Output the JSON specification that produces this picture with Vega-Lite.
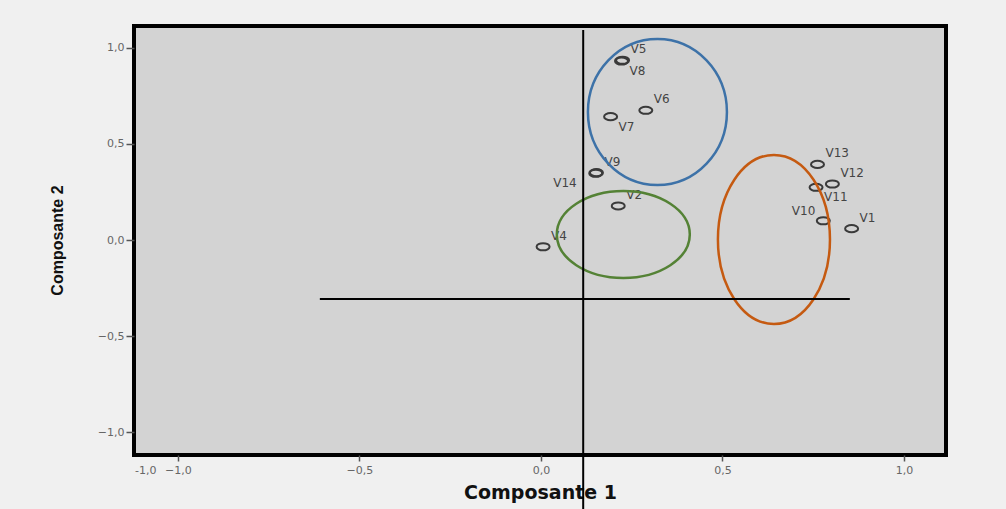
{
  "$schema": "https://vega.github.io/schema/vega-lite/v6.json",
  "width": 812,
  "height": 429,
  "autosize": "none",
  "padding": {"left": 134, "top": 26, "right": 60, "bottom": 54},
  "background": "#f0f0f0",
  "config": {
    "view": {"stroke": "#000000", "strokeWidth": 4, "fill": "#d3d3d3"},
    "axis": {"grid": false, "domain": false}
  },
  "datasets": {
    "pts": [
      {"label": "V1", "c1": 0.856, "c2": 0.059},
      {"label": "V2", "c1": 0.213, "c2": 0.177},
      {"label": "V4", "c1": 0.006, "c2": -0.035},
      {"label": "V5", "c1": 0.225, "c2": 0.934},
      {"label": "V6", "c1": 0.289, "c2": 0.674},
      {"label": "V7", "c1": 0.192, "c2": 0.641},
      {"label": "V8", "c1": 0.222, "c2": 0.930},
      {"label": "V9", "c1": 0.153, "c2": 0.350},
      {"label": "V10", "c1": 0.778, "c2": 0.100},
      {"label": "V11", "c1": 0.758, "c2": 0.274},
      {"label": "V12", "c1": 0.803, "c2": 0.291},
      {"label": "V13", "c1": 0.762, "c2": 0.393},
      {"label": "V14", "c1": 0.151, "c2": 0.347}
    ],
    "groupes": [
      {"groupe": "bleu", "c1": 0.321, "c2": 0.665},
      {"groupe": "vert", "c1": 0.227, "c2": 0.029},
      {"groupe": "orange", "c1": 0.642, "c2": 0.003}
    ],
    "vline": [{"c1": 0.1165, "c2": 1.091, "c2_fin": -1.45}],
    "hline": [{"c1": -0.609, "c1_fin": 0.851, "c2": -0.306}]
  },
  "encoding": {
    "x": {
      "field": "c1",
      "type": "quantitative",
      "scale": {"domain": [-1.121, 1.116], "nice": false, "zero": false},
      "axis": {
        "title": "Composante 1",
        "values": [-1.09, -1, -0.5, 0, 0.5, 1],
        "labelExpr": "datum.value < -1.05 ? '-1,0' : replace(format(datum.value, '.1f'), '.', ',')",
        "labelOverlap": false,
        "labelFont": "DejaVu Sans",
        "labelFontSize": 11,
        "labelColor": "#666666",
        "labelPadding": 3,
        "tickSize": 6,
        "tickWidth": 1.5,
        "tickColor": "#555555",
        "tickOpacity": {"condition": {"test": "datum.value < -1.05", "value": 0}, "value": 1},
        "titleFont": "DejaVu Sans",
        "titleFontSize": 19,
        "titleFontWeight": "bold",
        "titleColor": "#111111",
        "titleBaseline": "alphabetic",
        "titleY": 43
      }
    },
    "y": {
      "field": "c2",
      "type": "quantitative",
      "scale": {"domain": [-1.117, 1.112], "nice": false, "zero": false},
      "axis": {
        "title": "Composante 2",
        "values": [-1, -0.5, 0, 0.5, 1],
        "labelExpr": "replace(format(datum.value, '.1f'), '.', ',')",
        "labelFont": "DejaVu Sans",
        "labelFontSize": 11,
        "labelColor": "#666666",
        "labelPadding": 2,
        "tickSize": 8,
        "tickWidth": 1.5,
        "tickColor": "#555555",
        "titleFont": "Liberation Sans",
        "titleFontSize": 16,
        "titleFontWeight": "bold",
        "titleColor": "#111111",
        "titleBaseline": "alphabetic",
        "titleX": -72,
        "titleY": 214
      }
    }
  },
  "layer": [
    {
      "data": {"name": "pts"},
      "mark": {
        "type": "point",
        "shape": "M -1 0 A 1 0.55 0 1 1 1 0 A 1 0.55 0 1 1 -1 0 Z",
        "size": 169,
        "filled": false,
        "stroke": "#3a3a3a",
        "strokeWidth": 2,
        "opacity": 1
      }
    },
    {
      "data": {"name": "pts"},
      "transform": [{"filter": {"field": "label", "oneOf": ["V1", "V2", "V4", "V5", "V6", "V9", "V12", "V13"]}}],
      "mark": {"type": "text", "align": "left", "baseline": "middle", "dx": 8, "dy": -11, "font": "DejaVu Sans", "fontSize": 12, "color": "#444444"},
      "encoding": {"text": {"field": "label"}}
    },
    {
      "data": {"name": "pts"},
      "transform": [{"filter": {"field": "label", "oneOf": ["V7", "V8", "V11"]}}],
      "mark": {"type": "text", "align": "left", "baseline": "middle", "dx": 8, "dy": 10, "font": "DejaVu Sans", "fontSize": 12, "color": "#444444"},
      "encoding": {"text": {"field": "label"}}
    },
    {
      "data": {"name": "pts"},
      "transform": [{"filter": {"field": "label", "oneOf": ["V10"]}}],
      "mark": {"type": "text", "align": "right", "baseline": "middle", "dx": -8, "dy": -10, "font": "DejaVu Sans", "fontSize": 12, "color": "#444444"},
      "encoding": {"text": {"field": "label"}}
    },
    {
      "data": {"name": "pts"},
      "transform": [{"filter": {"field": "label", "oneOf": ["V14"]}}],
      "mark": {"type": "text", "align": "right", "baseline": "middle", "dx": -19, "dy": 10, "font": "DejaVu Sans", "fontSize": 12, "color": "#444444"},
      "encoding": {"text": {"field": "label"}}
    },
    {
      "data": {"name": "groupes"},
      "transform": [{"filter": "datum.groupe === 'bleu'"}],
      "mark": {
        "type": "point",
        "shape": "M -0.952 0 A 0.952 1 0 1 1 0.952 0 A 0.952 1 0 1 1 -0.952 0 Z",
        "size": 21316,
        "filled": false,
        "stroke": "#3d72a8",
        "strokeWidth": 2.5,
        "opacity": 1
      }
    },
    {
      "data": {"name": "groupes"},
      "transform": [{"filter": "datum.groupe === 'vert'"}],
      "mark": {
        "type": "point",
        "shape": "M -1 0 A 1 0.654 0 1 1 1 0 A 1 0.654 0 1 1 -1 0 Z",
        "size": 17689,
        "filled": false,
        "stroke": "#548235",
        "strokeWidth": 2.5,
        "opacity": 1
      }
    },
    {
      "data": {"name": "groupes"},
      "transform": [{"filter": "datum.groupe === 'orange'"}],
      "mark": {
        "type": "point",
        "shape": "M -0.663 0 A 0.663 1 0 1 1 0.663 0 A 0.663 1 0 1 1 -0.663 0 Z",
        "size": 28561,
        "filled": false,
        "stroke": "#c55a11",
        "strokeWidth": 2.5,
        "opacity": 1
      }
    },
    {
      "data": {"name": "vline"},
      "mark": {"type": "rule", "color": "#000000", "strokeWidth": 2},
      "encoding": {"y2": {"field": "c2_fin"}}
    },
    {
      "data": {"name": "hline"},
      "mark": {"type": "rule", "color": "#000000", "strokeWidth": 2},
      "encoding": {"x2": {"field": "c1_fin"}}
    }
  ]
}
